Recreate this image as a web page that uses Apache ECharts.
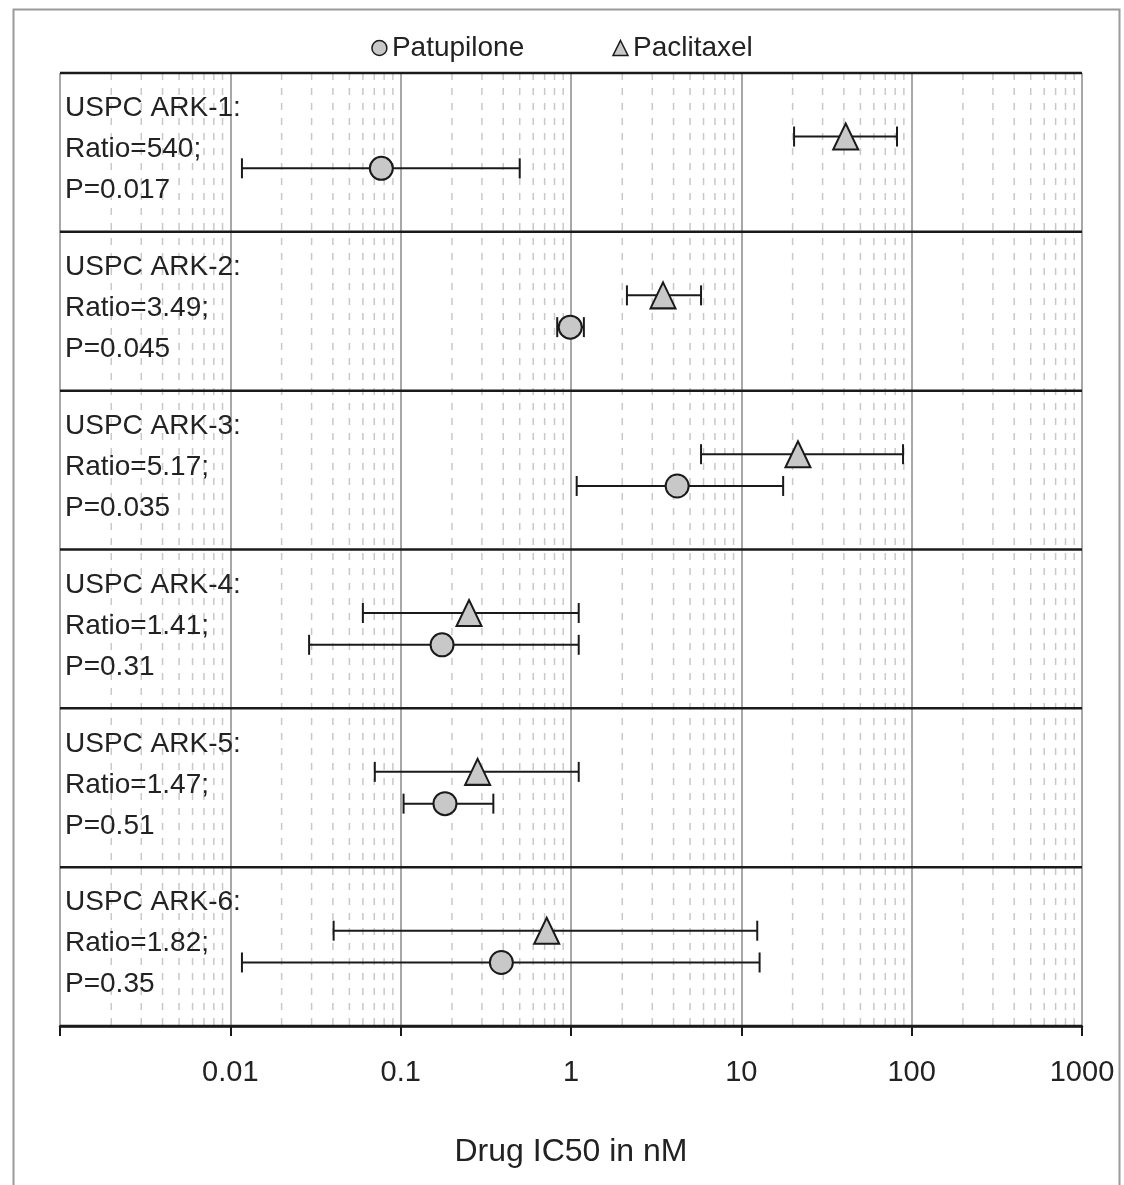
<!DOCTYPE html>
<html>
<head>
<meta charset="UTF-8">
<title>Drug IC50</title>
<script src="https://cdn.jsdelivr.net/npm/echarts@6/dist/echarts.min.js"></script>
<style>
  html, body { margin: 0; padding: 0; background: #fff; }
  #chart { width: 1124px; height: 1185px; }
</style>
</head>
<body>
<div id="chart"></div>
<script>
// cell lines, one row each (top to bottom)
var cellLines = ['USPC ARK-1', 'USPC ARK-2', 'USPC ARK-3', 'USPC ARK-4', 'USPC ARK-5', 'USPC ARK-6'];
var ratios = ['540', '3.49', '5.17', '1.41', '1.47', '1.82'];
var pValues = ['0.017', '0.045', '0.035', '0.31', '0.51', '0.35'];

// IC50 (nM) with error bar ends
var patMid  = [0.077, 0.99, 4.2, 0.175, 0.182, 0.39];
var patLow  = [0.0117, 0.83, 1.08, 0.029, 0.104, 0.0117];
var patHigh = [0.50, 1.19, 17.6, 1.11, 0.35, 12.8];
var pacMid  = [41, 3.47, 21.5, 0.252, 0.283, 0.72];
var pacLow  = [20.4, 2.13, 5.8, 0.060, 0.0705, 0.0404];
var pacHigh = [82, 5.8, 89, 1.11, 1.11, 12.4];

var tickLabels = ['', '0.01', '0.1', '1', '10', '100', '1000'];

var chart = echarts.init(document.getElementById('chart'));

var pacY = 0.4, patY = 0.6; // place inside each row band

var patPoints = [], pacPoints = [], patBars = [], pacBars = [], rowLabels = [];
for (var i = 0; i < cellLines.length; i++) {
    patPoints.push([patMid[i], i + patY]);
    pacPoints.push([pacMid[i], i + pacY]);
    patBars.push([patLow[i], patHigh[i], i + patY]);
    pacBars.push([pacLow[i], pacHigh[i], i + pacY]);
    rowLabels.push([0.001, i, cellLines[i] + ':\nRatio=' + ratios[i] + ';\nP=' + pValues[i]]);
}

function errorBar(params, api) {
    var y = api.value(2);
    var a = api.coord([api.value(0), y]);
    var b = api.coord([api.value(1), y]);
    var h = 10;
    var st = { stroke: '#1a1a1a', lineWidth: 2 };
    return {
        type: 'group',
        children: [
            { type: 'line', shape: { x1: a[0], y1: a[1], x2: b[0], y2: b[1] }, style: st },
            { type: 'line', shape: { x1: a[0], y1: a[1] - h, x2: a[0], y2: a[1] + h }, style: st },
            { type: 'line', shape: { x1: b[0], y1: b[1] - h, x2: b[0], y2: b[1] + h }, style: st }
        ]
    };
}

// minor dashed gridlines (2..9 in every decade) + black row separators
function gridLines(params, api) {
    var cs = params.coordSys;
    var kids = [];
    for (var d = -3; d < 3; d++) {
        for (var k = 2; k <= 9; k++) {
            var x = api.coord([k * Math.pow(10, d), 0])[0];
            kids.push({
                type: 'line',
                shape: { x1: x, y1: cs.y, x2: x, y2: cs.y + cs.height },
                style: { stroke: '#c8c8c8', lineWidth: 1.5, lineDash: [7, 8] }
            });
        }
    }
    for (var r = 0; r <= cellLines.length; r++) {
        var y = api.coord([1, r])[1];
        kids.push({
            type: 'line',
            shape: { x1: cs.x, y1: y, x2: cs.x + cs.width, y2: y },
            style: { stroke: '#1a1a1a', lineWidth: 2.5 }
        });
    }
    return { type: 'group', children: kids };
}

function rowLabel(params, api) {
    var p = api.coord([api.value(0), api.value(1)]);
    return {
        type: 'text',
        x: p[0] + 5,
        y: p[1] + 15,
        style: {
            text: rowLabels[params.dataIndex][2],
            fill: '#222',
            font: '28px "Liberation Sans", Arial, sans-serif',
            lineHeight: 41,
            verticalAlign: 'top',
            align: 'left'
        }
    };
}

var option = {
    backgroundColor: '#fff',
    animation: false,
    textStyle: { fontFamily: '"Liberation Sans", Arial, sans-serif', color: '#222' },
    graphic: [{
        type: 'rect',
        left: 11, top: 7,
        shape: { width: 1106, height: 1200 },
        style: { fill: 'none', stroke: '#9a9a9a', lineWidth: 2 },
        silent: true
    }],
    legend: {
        top: 29,
        left: 'center',
        itemWidth: 15,
        itemHeight: 15,
        itemGap: 88,
        textStyle: { fontSize: 28, color: '#222' },
        itemStyle: { borderWidth: 1.5 },
        data: ['Patupilone', 'Paclitaxel']
    },
    grid: { left: 60, right: 42, top: 73, bottom: 159 },
    xAxis: {
        type: 'log',
        logBase: 10,
        min: 0.001,
        max: 1000,
        name: 'Drug IC50 in nM',
        nameLocation: 'middle',
        nameGap: 110,
        nameTextStyle: { fontSize: 32, color: '#222' },
        axisLine: { show: true, onZero: false, lineStyle: { color: '#1a1a1a', width: 2.5 } },
        axisTick: { show: true, length: 10, lineStyle: { color: '#1a1a1a', width: 2 } },
        axisLabel: {
            fontSize: 29,
            color: '#222',
            margin: 32,
            formatter: function (v, idx) { return tickLabels[idx] || ''; }
        },
        splitLine: { show: true, lineStyle: { color: '#a8a8a8', width: 2 } }
    },
    yAxis: {
        type: 'value',
        min: 0,
        max: 6,
        interval: 1,
        inverse: true,
        axisLine: { show: false },
        axisTick: { show: false },
        axisLabel: { show: false },
        splitLine: { show: false }
    },
    series: [
        {
            type: 'custom',
            silent: true,
            renderItem: gridLines,
            data: [[1, 0]],
            z: 1
        },
        {
            type: 'custom',
            silent: true,
            renderItem: rowLabel,
            data: rowLabels,
            z: 3
        },
        {
            type: 'custom',
            renderItem: errorBar,
            encode: { x: [0, 1], y: 2 },
            data: patBars,
            z: 4
        },
        {
            type: 'custom',
            renderItem: errorBar,
            encode: { x: [0, 1], y: 2 },
            data: pacBars,
            z: 4
        },
        {
            name: 'Patupilone',
            type: 'scatter',
            symbol: 'circle',
            symbolSize: 23,
            itemStyle: { color: '#c8c8c8', borderColor: '#1a1a1a', borderWidth: 2, opacity: 1 },
            data: patPoints,
            z: 5
        },
        {
            name: 'Paclitaxel',
            type: 'scatter',
            symbol: 'triangle',
            symbolSize: [25, 26],
            itemStyle: { color: '#c8c8c8', borderColor: '#1a1a1a', borderWidth: 2, opacity: 1 },
            data: pacPoints,
            z: 5
        }
    ]
};

chart.setOption(option);
</script>
</body>
</html>
